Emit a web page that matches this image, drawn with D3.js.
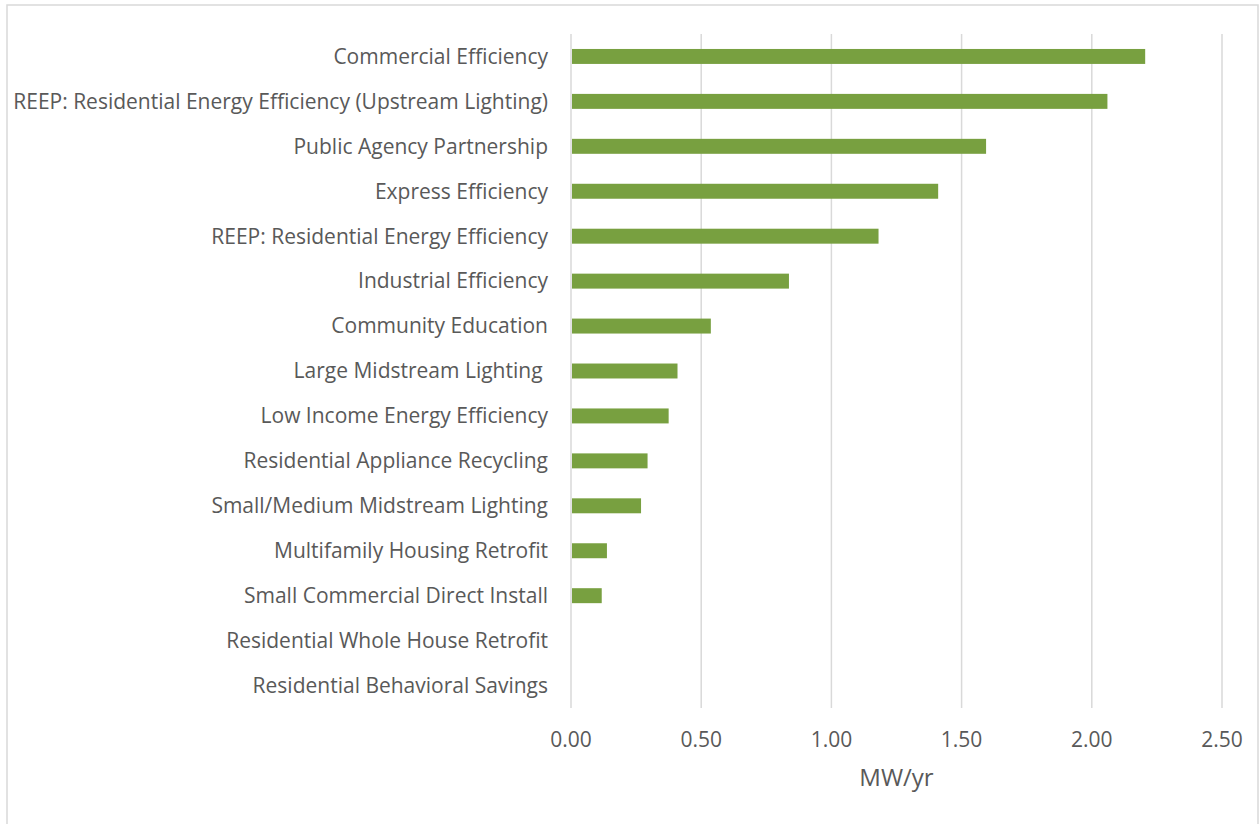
<!DOCTYPE html>
<html>
<head>
<meta charset="utf-8">
<script src="https://cdn.jsdelivr.net/npm/d3@7"></script>
<style>
  body { margin: 0; background: #fff; }
  svg text { font-family: "Open Sans", "Noto Sans", sans-serif; fill: #595959; white-space: pre; }
</style>
</head>
<body>
<svg id="chart" width="1260" height="824"></svg>
<script>
var programs = [
  "Commercial Efficiency",
  "REEP: Residential Energy Efficiency (Upstream Lighting)",
  "Public Agency Partnership",
  "Express Efficiency",
  "REEP: Residential Energy Efficiency",
  "Industrial Efficiency",
  "Community Education",
  "Large Midstream Lighting ",
  "Low Income Energy Efficiency",
  "Residential Appliance Recycling",
  "Small/Medium Midstream Lighting",
  "Multifamily Housing Retrofit",
  "Small Commercial Direct Install",
  "Residential Whole House Retrofit",
  "Residential Behavioral Savings"
];
var savings = [2.205, 2.06, 1.594, 1.41, 1.181, 0.837, 0.537, 0.409, 0.375, 0.294, 0.269, 0.138, 0.118, 0, 0];
var xTicks = [0, 0.5, 1, 1.5, 2, 2.5];
var axisTitle = "MW/yr";

var svg = d3.select("#chart");

// outer frame
svg.append("rect")
    .attr("x", 7).attr("y", 5)
    .attr("width", 1251).attr("height", 830)
    .attr("fill", "none")
    .attr("stroke", "#d9d9d9")
    .attr("stroke-width", 1.5);

var margin = {left: 571, right: 38, top: 34, bottom: 116};
var width = 1260 - margin.left - margin.right;
var height = 824 - margin.top - margin.bottom;

const x = d3.scaleLinear().domain([0, 2.5]).range([margin.left, margin.left + width]);
const y = d3.scaleBand().domain(programs).range([margin.top, margin.top + height]).paddingInner(0.667).paddingOuter(0.333);

// gridlines
svg.append("g").selectAll("line")
    .data(xTicks)
    .join("line")
    .attr("x1", d => x(d)).attr("x2", d => x(d))
    .attr("y1", margin.top).attr("y2", margin.top + height)
    .attr("stroke", "#d9d9d9")
    .attr("stroke-width", 1.5);

// bars
svg.append("g").selectAll("rect")
    .data(savings)
    .join("rect")
    .attr("x", x(0) + 1)
    .attr("y", (d, i) => y(programs[i]))
    .attr("width", d => Math.max(0, x(d) - x(0) - 1))
    .attr("height", y.bandwidth())
    .attr("fill", "#78a040");

// category labels
svg.append("g").selectAll("text")
    .data(programs)
    .join("text")
    .attr("x", margin.left - 23)
    .attr("y", d => y(d) + y.bandwidth() / 2)
    .attr("dy", "0.35em")
    .attr("text-anchor", "end")
    .style("font-size", "21px")
    .text(d => d);

// tick labels
svg.append("g").selectAll("text")
    .data(xTicks)
    .join("text")
    .attr("x", d => x(d))
    .attr("y", 747)
    .attr("text-anchor", "middle")
    .style("font-size", "21px")
    .text(d => d3.format(".2f")(d));

// axis title
svg.append("text")
    .attr("x", margin.left + width / 2)
    .attr("y", 786)
    .attr("text-anchor", "middle")
    .style("font-size", "24px")
    .text(axisTitle);
</script>
</body>
</html>
